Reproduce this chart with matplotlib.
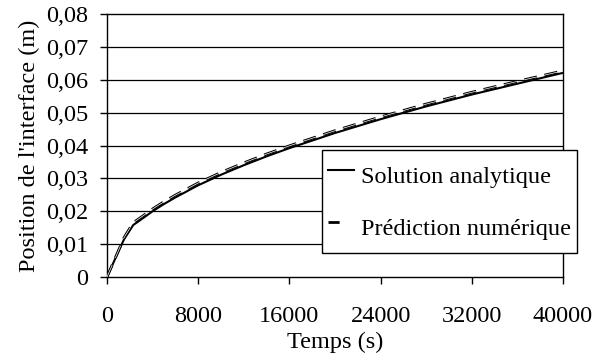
import matplotlib
matplotlib.use("Agg")
import matplotlib.pyplot as plt
from matplotlib.ticker import FuncFormatter, MultipleLocator
from matplotlib.lines import Line2D

# Data
temps = [0, 800, 1500, 2300, 3200, 4000, 5000, 6000, 8000, 10000, 12000,
         14000, 16000, 20000, 24000, 28000, 32000, 36000, 40000]
analytique = [0, 0.0062, 0.0115, 0.0158, 0.0180, 0.0200, 0.0222, 0.0242,
              0.0279, 0.0311, 0.0340, 0.0367, 0.0392, 0.0438, 0.0480,
              0.0519, 0.0555, 0.0588, 0.0621]
numerique = [0, 0.0064, 0.0120, 0.0165, 0.0187, 0.0207, 0.0229, 0.0249,
             0.0286, 0.0318, 0.0347, 0.0374, 0.0399, 0.0445, 0.0487,
             0.0526, 0.0562, 0.0595, 0.0627]
x_ticks = [0, 8000, 16000, 24000, 32000, 40000]
label_analytique = "Solution analytique"
label_numerique = "Prédiction numérique"
xlabel = "Temps (s)"
ylabel = "Position de l'interface (m)"

plt.rcParams['font.family'] = ['Liberation Serif', 'DejaVu Serif']
plt.rcParams['lines.scale_dashes'] = False
FS = 17.5


def fmt_y(v, p):
    if abs(v) < 1e-12:
        return "0"
    return f"{v:.2f}".replace('.', ',')


fig = plt.figure(figsize=(6.06, 3.6), dpi=100)
ax = fig.add_axes([107/606, 1 - 277/360, (563 - 107)/606, (277 - 14)/360])

for v in [0.01, 0.02, 0.03, 0.04, 0.05, 0.06, 0.07]:
    ax.axhline(v, color='black', lw=0.9, zorder=1)

ax.plot(temps, analytique, color='black', lw=1.5, zorder=3,
        solid_capstyle='butt')
dash = (0, (9.5, 5.5))
ax.plot(temps, numerique, color='black', lw=2.0, linestyle=dash, zorder=4,
        dash_capstyle='butt')
ax.plot(temps, numerique, color='white', lw=0.5, linestyle=dash, zorder=5,
        dash_capstyle='butt')

ax.set_xlim(0, 40000)
ax.set_ylim(0, 0.08)
ax.set_xticks(x_ticks)
ax.xaxis.set_major_formatter(FuncFormatter(lambda v, p: f"{int(v)}"))
ax.yaxis.set_major_locator(MultipleLocator(0.01))
ax.yaxis.set_major_formatter(FuncFormatter(fmt_y))

for s in ax.spines.values():
    s.set_color('black')
    s.set_linewidth(1.0)

ax.tick_params(axis='both', direction='out', length=5, width=1.0,
               color='black', labelsize=FS, labelcolor='black')
ax.tick_params(axis='x', pad=16.0)
ax.tick_params(axis='y', pad=8.5)

ax.set_xlabel(xlabel, fontsize=FS, labelpad=3.5)
ax.set_ylabel(ylabel, fontsize=FS, labelpad=4.5)

handles = [Line2D([], [], color='black', lw=1.5),
           Line2D([], [], color='black', lw=2.0, linestyle=(0, (8.0, 12.0)))]
leg = fig.legend(handles, [label_analytique, label_numerique],
                 loc='upper left', bbox_to_anchor=(322/606, 1 - 150/360),
                 bbox_transform=fig.transFigure, fontsize=FS,
                 frameon=True, fancybox=False, shadow=False,
                 handlelength=1.05, handleheight=2.1, handletextpad=0.3,
                 borderpad=0.25, labelspacing=0.53, borderaxespad=0)
leg.get_frame().set_edgecolor('black')
leg.get_frame().set_linewidth(1.0)
leg.get_frame().set_facecolor('white')
leg.get_frame().set_alpha(1)
leg.set_zorder(10)

fig.savefig("out.png", dpi=100)
